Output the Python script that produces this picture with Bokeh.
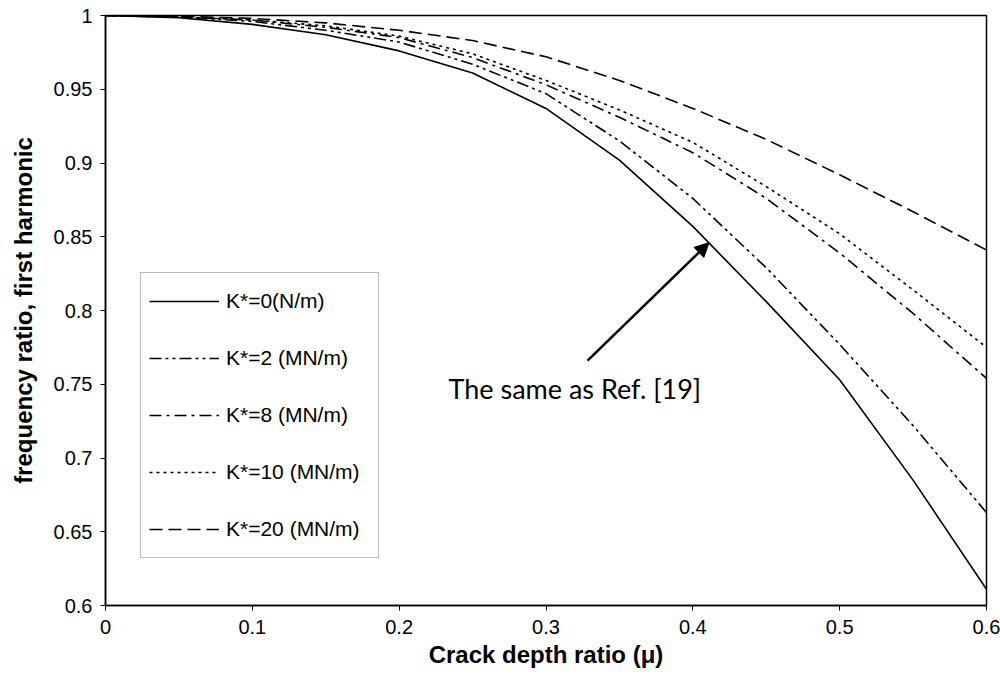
from bokeh.plotting import figure
from bokeh.models import Range1d, FixedTicker, Legend, LegendItem, Arrow, NormalHead, Label
from bokeh.embed import file_html
from bokeh.resources import INLINE

# ---- data ----
crack_depth = [0.0, 0.05, 0.1, 0.15, 0.2, 0.25, 0.3, 0.35, 0.4, 0.45, 0.5, 0.55, 0.6]
k0 = [1.0, 0.9985, 0.994, 0.987, 0.976, 0.961, 0.937, 0.902, 0.857, 0.806, 0.753, 0.685, 0.611]
k2 = [1.0, 0.999, 0.996, 0.990, 0.982, 0.967, 0.947, 0.915, 0.876, 0.829, 0.777, 0.722, 0.663]
k8 = [1.0, 0.999, 0.997, 0.992, 0.985, 0.9715, 0.953, 0.931, 0.907, 0.876, 0.839, 0.798, 0.754]
k10 = [1.0, 0.999, 0.997, 0.993, 0.986, 0.974, 0.956, 0.936, 0.914, 0.884, 0.852, 0.814, 0.775]
k20 = [1.0, 0.9995, 0.998, 0.995, 0.990, 0.983, 0.972, 0.956, 0.937, 0.916, 0.892, 0.867, 0.841]

series_labels = ["K*=0(N/m)", "K*=2 (MN/m)", "K*=8 (MN/m)", "K*=10 (MN/m)", "K*=20 (MN/m)"]

x_ticks = [0.0, 0.1, 0.2, 0.3, 0.4, 0.5, 0.6]
x_tick_labels = ["0", "0.1", "0.2", "0.3", "0.4", "0.5", "0.6"]
y_ticks = [0.6, 0.65, 0.7, 0.75, 0.8, 0.85, 0.9, 0.95, 1.0]
y_tick_labels = ["0.6", "0.65", "0.7", "0.75", "0.8", "0.85", "0.9", "0.95", "1"]

x_title = "Crack depth ratio (\u03bc)"
y_title = "frequency ratio, first harmonic"
annotation_text = "The same as Ref. [19]"
arrow_start = (0.3283, 0.766)
arrow_end = (0.411, 0.846)
annotation_pos = (0.2336, 0.747)

# ---- figure ----
p = figure(width=1000, height=675, output_backend="svg", toolbar_location=None,
           x_range=Range1d(0, 0.6), y_range=Range1d(0.6, 1.0),
           min_border_left=105, min_border_right=14, min_border_top=15, min_border_bottom=70)
p.grid.visible = False
p.outline_line_color = "black"
p.outline_line_width = 1.5
p.background_fill_color = "white"
p.border_fill_color = "white"

FONT = "Liberation Sans"
for ax in (p.xaxis[0], p.yaxis[0]):
    ax.axis_line_color = "black"
    ax.axis_line_width = 1.5
    ax.major_tick_line_color = "black"
    ax.major_tick_in = 0
    ax.major_tick_out = 5
    ax.minor_tick_line_color = None
    ax.major_label_text_font = FONT
    ax.major_label_text_font_size = "20px"
    ax.major_label_text_color = "black"
    ax.axis_label_text_font = FONT
    ax.axis_label_text_font_size = "24px"
    ax.axis_label_text_font_style = "bold"
    ax.axis_label_text_color = "black"

p.xaxis.ticker = FixedTicker(ticks=x_ticks)
p.xaxis.major_label_overrides = {t: l for t, l in zip(x_ticks, x_tick_labels)}
p.yaxis.ticker = FixedTicker(ticks=y_ticks)
p.yaxis.major_label_overrides = {t: l for t, l in zip(y_ticks, y_tick_labels)}
p.xaxis.axis_label = x_title
p.yaxis.axis_label = y_title
p.xaxis.major_label_standoff = 9
p.xaxis.axis_label_standoff = 4
p.yaxis.major_label_standoff = 8
p.yaxis.axis_label_standoff = 14

dashes = ["solid", "12 4 3 4 3 4", "12 5 3 5", "3 4", "13 6"]
all_series = [k0, k2, k8, k10, k20]
renderers = []
for ys, dash in zip(all_series, dashes):
    r = p.line(crack_depth, ys, line_color="black", line_width=1.6, line_dash=dash)
    renderers.append(r)

legend = Legend(items=[LegendItem(label=lab, renderers=[r]) for lab, r in zip(series_labels, renderers)],
                location=(35, 47), margin=0, padding=8, spacing=17,
                glyph_width=70, glyph_height=40, label_height=40, label_width=144,
                label_standoff=7,
                label_text_font=FONT, label_text_font_size="21px", label_text_color="black",
                border_line_color="#777777", border_line_width=1.5,
                background_fill_color="white", background_fill_alpha=1.0)
p.add_layout(legend, "center")

p.add_layout(Arrow(end=NormalHead(size=14, fill_color="black", line_color="black"),
                   x_start=arrow_start[0], y_start=arrow_start[1],
                   x_end=arrow_end[0], y_end=arrow_end[1],
                   line_color="black", line_width=2.5))
p.add_layout(Label(x=annotation_pos[0], y=annotation_pos[1], text=annotation_text,
                   text_font="Lato", text_font_size="27px", text_color="black",
                   text_baseline="middle", text_align="left"))

open("out.html", "w").write(file_html(p, INLINE))
